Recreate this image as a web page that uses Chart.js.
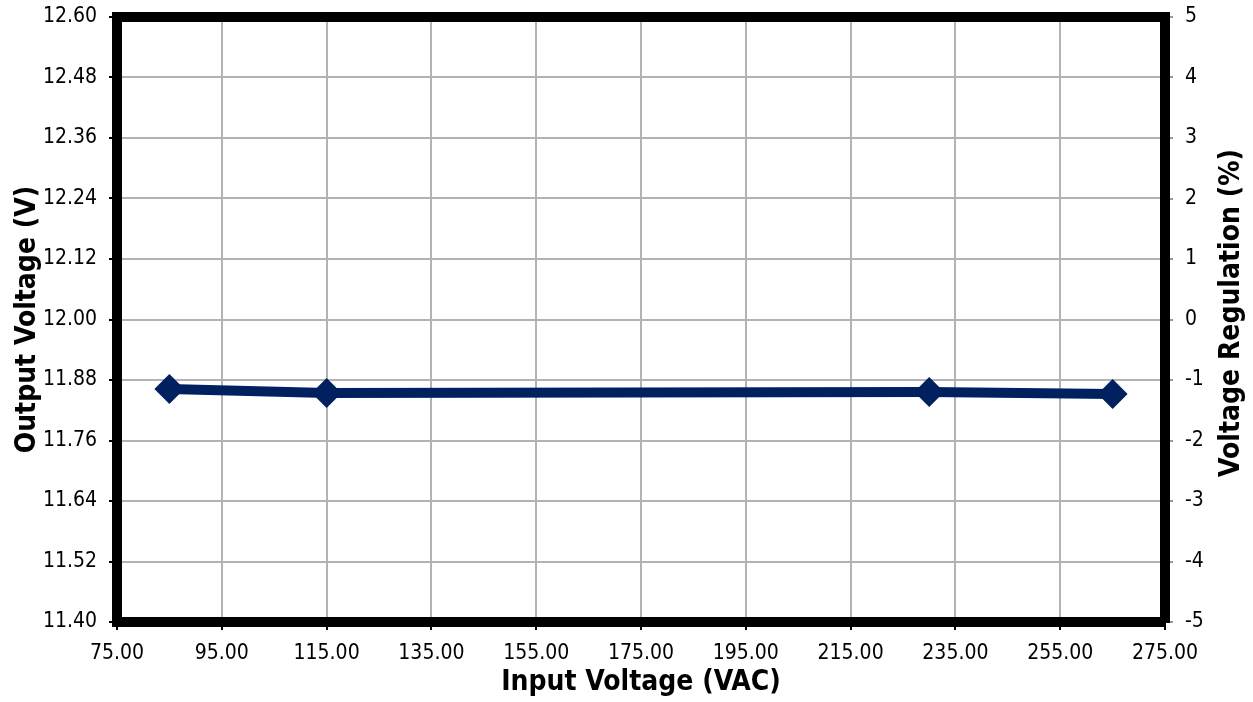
<!DOCTYPE html>
<html>
<head>
<meta charset="utf-8">
<script src="https://cdn.jsdelivr.net/npm/chart.js@4.4.1/dist/chart.umd.min.js"></script>
<style>
  html, body { margin: 0; padding: 0; background: #fff; }
  #wrap { width: 1253px; height: 702px; }
</style>
</head>
<body>
<div id="wrap"><canvas id="myChart" width="1253" height="702"></canvas></div>
<script>
const inputVoltage = [85, 115, 230, 265];
const outputVoltage = [11.862, 11.854, 11.856, 11.852];

const xTicks = [75, 95, 115, 135, 155, 175, 195, 215, 235, 255, 275];
const leftTicks = [11.40, 11.52, 11.64, 11.76, 11.88, 12.00, 12.12, 12.24, 12.36, 12.48, 12.60];
const rightTicks = [-5, -4, -3, -2, -1, 0, 1, 2, 3, 4, 5];

const FONT = '"DejaVu Sans Condensed", "Liberation Sans", sans-serif';
const LINE_COLOR = '#002060';

// top border of the plot frame and the right axis title (reads bottom to top)
const framePlugin = {
    id: 'frame',
    afterDraw(chart) {
        const a = chart.chartArea;
        const ctx = chart.ctx;
        ctx.save();
        ctx.strokeStyle = '#000';
        ctx.lineWidth = 10;
        ctx.beginPath();
        ctx.moveTo(a.left - 5, a.top);
        ctx.lineTo(a.right + 5, a.top);
        ctx.stroke();

        ctx.translate(1232, 313);
        ctx.rotate(-Math.PI / 2);
        ctx.fillStyle = '#000';
        ctx.font = 'bold 28px ' + FONT;
        ctx.textAlign = 'center';
        ctx.textBaseline = 'middle';
        ctx.fillText('Voltage Regulation (%)', 0, 0);
        ctx.restore();
    }
};

function noPad(axis) {
    axis.paddingTop = 0;
    axis.paddingBottom = 0;
    axis.paddingLeft = 0;
    axis.paddingRight = 0;
}

const ctx = document.getElementById('myChart').getContext('2d');
const myChart = new Chart(ctx, {
    type: 'scatter',
    data: {
        datasets: [{
            data: inputVoltage.map((v, i) => ({ x: v, y: outputVoltage[i] })),
            showLine: true,
            borderColor: LINE_COLOR,
            backgroundColor: LINE_COLOR,
            borderWidth: 10,
            pointStyle: 'rectRot',
            pointRadius: 15,
            pointHoverRadius: 15,
            pointBorderWidth: 0,
            yAxisID: 'y'
        }]
    },
    options: {
        responsive: false,
        animation: false,
        layout: { padding: { top: 17, left: 0, right: 0, bottom: 0 } },
        plugins: {
            legend: { display: false },
            tooltip: { enabled: false }
        },
        scales: {
            x: {
                type: 'linear',
                min: 75,
                max: 275,
                afterBuildTicks: axis => { axis.ticks = xTicks.map(v => ({ value: v })); },
                afterFit: axis => { axis.height = 80; noPad(axis); },
                ticks: {
                    color: '#000',
                    font: { family: FONT, size: 21 },
                    padding: 11,
                    maxRotation: 0,
                    callback: v => Number(v).toFixed(2)
                },
                grid: { color: '#b3b3b3', lineWidth: 2, tickColor: '#000', tickLength: 8 },
                border: { display: true, color: '#000', width: 10 },
                title: {
                    display: true,
                    text: 'Input Voltage (VAC)',
                    color: '#000',
                    font: { family: FONT, size: 28, weight: 'bold' },
                    padding: { top: 0, bottom: 2 }
                }
            },
            y: {
                type: 'linear',
                position: 'left',
                min: 11.40,
                max: 12.60,
                afterBuildTicks: axis => { axis.ticks = leftTicks.map(v => ({ value: v })); },
                afterFit: axis => { axis.width = 117; noPad(axis); },
                ticks: {
                    color: '#000',
                    font: { family: FONT, size: 21 },
                    padding: 12,
                    callback: v => Number(v).toFixed(2)
                },
                grid: { color: '#b3b3b3', lineWidth: 2, tickColor: '#000', tickLength: 8 },
                border: { display: true, color: '#000', width: 10 },
                title: {
                    display: true,
                    text: 'Output Voltage (V)',
                    color: '#000',
                    font: { family: FONT, size: 28, weight: 'bold' },
                    padding: { top: 11, bottom: 0 }
                }
            },
            y2: {
                type: 'linear',
                position: 'right',
                min: -5,
                max: 5,
                afterBuildTicks: axis => { axis.ticks = rightTicks.map(v => ({ value: v })); },
                afterFit: axis => { axis.width = 88; noPad(axis); },
                ticks: {
                    color: '#000',
                    font: { family: FONT, size: 21 },
                    padding: 12,
                    callback: v => String(v)
                },
                grid: { drawOnChartArea: false, color: '#999', lineWidth: 2, tickColor: '#999', tickLength: 8 },
                border: { display: true, color: '#000', width: 10 }
            }
        }
    },
    plugins: [framePlugin]
});
</script>
</body>
</html>
